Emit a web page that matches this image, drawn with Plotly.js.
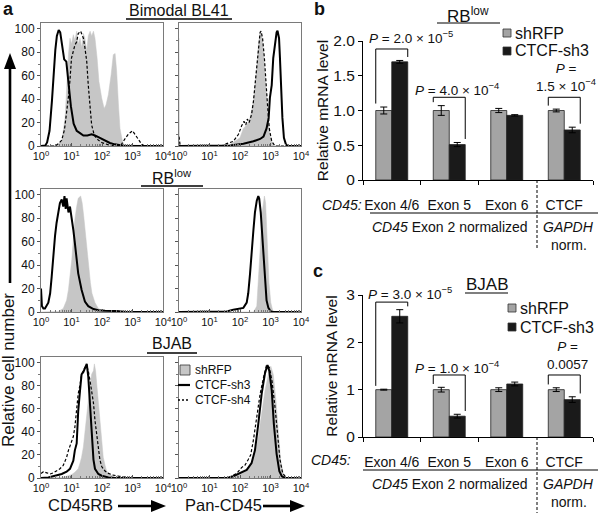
<!DOCTYPE html>
<html>
<head>
<meta charset="utf-8">
<script src="https://cdn.plot.ly/plotly-3.0.1.min.js"></script>
<style>html,body{margin:0;padding:0;background:#fff}#chart{width:600px;height:513px}</style>
</head>
<body>
<div id="chart"></div>
<script>
// ---------- Panel a: flow-cytometry histograms (x = log10 fluorescence, y = relative cell number) ----------
// Bimodal BL41, CD45RB
const bl41RbRfpX = [0, 0.5, 0.57, 0.68, 0.79, 0.84, 0.90, 0.95, 1.0, 1.06, 1.11, 1.17, 1.22, 1.28, 1.33, 1.39, 1.44, 1.50, 1.55, 1.61, 1.66, 1.72, 1.77, 1.84, 1.90, 1.99, 2.07, 2.13, 2.21, 2.30, 2.37, 2.43, 2.48, 2.54, 2.59, 2.67, 2.73, 4];
const bl41RbRfpY = [0, 0.5, 1.7, 4, 24, 52, 78, 92, 87, 95, 90, 98, 87, 92, 84, 96, 92, 81, 94, 98, 94, 98, 92, 75, 55, 41, 32, 35, 44, 61, 78, 79, 64, 35, 15, 4, 1, 0];
const bl41RbSh3X = [0, 0.14, 0.20, 0.28, 0.36, 0.41, 0.47, 0.52, 0.58, 0.63, 0.68, 0.76, 0.83, 0.90, 0.98, 1.07, 1.17, 1.28, 1.39, 1.52, 1.66, 1.77, 1.93, 2.10, 2.26, 2.42, 2.59, 2.75, 4];
const bl41RbSh3Y = [0, 0.5, 3, 13, 39, 62, 82, 94, 99, 97, 88, 74, 72, 54, 34, 19, 13, 11, 9, 9, 10, 9, 7, 5, 2.6, 1.4, 0.6, 0, 0];
const bl41RbSh4X = [0, 0.46, 0.57, 0.68, 0.77, 0.84, 0.90, 0.95, 1.0, 1.06, 1.11, 1.17, 1.22, 1.30, 1.33, 1.39, 1.44, 1.50, 1.55, 1.61, 1.66, 1.75, 1.88, 1.99, 2.21, 2.48, 2.64, 2.75, 2.86, 3.0, 3.08, 3.19, 3.30, 3.41, 4];
const bl41RbSh4Y = [0, 0, 2, 5, 14, 28, 42, 56, 75, 81, 86, 89, 96, 98, 96, 92, 84, 72, 52, 32, 18, 9, 5, 3, 1, 0, 1.5, 6, 10, 13, 10, 5, 1.5, 0, 0];
// Bimodal BL41, Pan-CD45
const bl41PanRfpX = [0, 0.012, 1.6, 1.78, 2.0, 2.11, 2.22, 2.33, 2.44, 2.49, 2.55, 2.60, 2.66, 2.71, 2.77, 2.82, 2.87, 2.93, 2.98, 3.04, 3.09, 4];
const bl41PanRfpY = [92, 0, 0, 3, 7, 15, 18, 24, 38, 52, 67, 86, 98, 95, 81, 61, 41, 24, 10, 3, 0, 0];
const bl41PanSh3X = [0, 1.5, 1.67, 2.11, 2.44, 2.66, 2.77, 2.87, 2.94, 2.98, 3.04, 3.09, 3.15, 3.20, 3.23, 3.28, 3.31, 3.34, 3.39, 3.44, 3.51, 3.58, 4];
const bl41PanSh3Y = [0, 0, 0.5, 2, 4, 6, 8, 15, 24, 41, 52, 75, 89, 97, 98.5, 92, 75, 52, 24, 7, 1, 0, 0];
const bl41PanSh4X = [0, 0.04, 1.4, 1.56, 1.78, 1.95, 2.05, 2.13, 2.19, 2.24, 2.30, 2.38, 2.44, 2.49, 2.55, 2.60, 2.66, 2.69, 2.74, 2.80, 2.85, 2.91, 2.96, 3.04, 3.15, 4];
const bl41PanSh4Y = [8, 0, 0, 2, 4, 10, 17, 21, 18, 23, 20, 27, 38, 52, 67, 84, 97, 98, 92, 75, 52, 32, 15, 4, 0, 0];
// RB low, CD45RB
const rbLowRbRfpX = [0, 0.5, 0.57, 0.73, 0.84, 0.90, 0.95, 1.01, 1.06, 1.11, 1.17, 1.22, 1.30, 1.35, 1.40, 1.45, 1.51, 1.56, 1.62, 1.67, 1.77, 1.88, 1.99, 2.10, 4];
const rbLowRbRfpY = [0, 0, 0.5, 3, 10, 19, 30, 45, 62, 79, 90, 97, 99, 93, 82, 68, 53, 39, 25, 16, 8, 3, 1.5, 0, 0];
const rbLowRbSh3X = [0, 0.03, 0.08, 0.13, 0.24, 0.30, 0.35, 0.40, 0.46, 0.51, 0.57, 0.62, 0.68, 0.73, 0.77, 0.81, 0.84, 0.90, 0.95, 1.01, 1.06, 1.11, 1.17, 1.22, 1.33, 1.44, 1.55, 1.72, 1.88, 2.10, 2.48, 2.64, 2.8, 4];
const rbLowRbSh3Y = [20, 5, 3, 3, 8, 16, 30, 48, 65, 76, 85, 93, 96, 90, 99, 88, 97, 85, 90, 76, 70, 59, 45, 33, 19, 9, 5, 2.5, 1.5, 1, 0.8, 0.3, 0, 0];
// RB low, Pan-CD45
const rbLowPanRfpX = [0, 2.44, 2.55, 2.60, 2.66, 2.71, 2.77, 2.80, 2.84, 2.87, 2.91, 2.95, 3.01, 3.07, 3.15, 4];
const rbLowPanRfpY = [0, 0, 5, 25, 53, 82, 93, 99, 93, 76, 53, 25, 8, 1.5, 0, 0];
const rbLowPanSh3X = [0, 1.34, 1.56, 1.78, 1.95, 2.11, 2.22, 2.27, 2.33, 2.38, 2.44, 2.49, 2.55, 2.60, 2.63, 2.68, 2.72, 2.77, 2.82, 2.87, 2.93, 3.01, 3.09, 4];
const rbLowPanSh3Y = [0, 0, 0.5, 2, 2.5, 3.5, 8, 16, 33, 53, 70, 85, 95, 99, 97, 85, 68, 45, 25, 10, 3.5, 0.5, 0, 0];
// BJAB, CD45RB
const bjabRbRfpX = [0, 0.46, 0.68, 0.90, 1.01, 1.11, 1.22, 1.28, 1.33, 1.39, 1.44, 1.50, 1.55, 1.61, 1.66, 1.72, 1.75, 1.79, 1.83, 1.88, 1.93, 1.99, 2.04, 2.10, 2.15, 2.26, 2.43, 2.54, 4];
const bjabRbRfpY = [0, 0, 0.5, 2, 3, 5, 8, 13, 18, 27, 38, 53, 67, 81, 90, 93, 99, 93, 81, 64, 47, 30, 18, 11, 6, 3, 0.5, 0, 0];
const bjabRbSh3X = [0, 0.02, 0.24, 0.46, 0.68, 0.84, 0.95, 1.06, 1.11, 1.17, 1.22, 1.28, 1.33, 1.39, 1.44, 1.50, 1.55, 1.61, 1.66, 1.72, 1.77, 1.88, 1.99, 2.21, 2.43, 4];
const bjabRbSh3Y = [0, 0, 0.5, 2, 3.5, 5.5, 8, 15, 24, 30, 58, 76, 90, 92, 95, 99, 88, 61, 33, 16, 8, 3.5, 2, 0.5, 0, 0];
const bjabRbSh4X = [0, 0.08, 0.19, 0.30, 0.41, 0.52, 0.62, 0.73, 0.84, 0.90, 0.95, 1.01, 1.06, 1.11, 1.17, 1.22, 1.28, 1.33, 1.39, 1.44, 1.50, 1.55, 1.61, 1.66, 1.72, 1.77, 1.83, 1.88, 1.93, 1.99, 2.10, 2.21, 2.37, 2.54, 2.70, 2.92, 3.0, 4];
const bjabRbSh4Y = [4, 5.5, 4.5, 3.5, 4.5, 6, 8, 11, 18, 24, 28, 31, 36, 44, 58, 73, 81, 90, 93, 96, 97, 93, 84, 76, 65, 50, 37, 26, 16, 10, 6, 4, 2.5, 1.7, 1, 0.5, 0, 0];
// BJAB, Pan-CD45
const bjabPanRfpX = [0, 1.56, 2.0, 2.22, 2.38, 2.49, 2.60, 2.71, 2.82, 2.93, 3.01, 3.09, 3.18, 3.26, 3.33, 3.42, 3.51, 4];
const bjabPanRfpY = [0, 0, 3, 6, 13, 21, 36, 56, 76, 90, 97, 90, 67, 39, 16, 4, 0, 0];
const bjabPanSh3X = [0, 1.6, 1.78, 2.0, 2.22, 2.38, 2.49, 2.60, 2.71, 2.82, 2.90, 2.96, 3.04, 3.11, 3.20, 3.29, 3.37, 3.48, 4];
const bjabPanSh3Y = [0, 0, 1.5, 4, 7, 13, 24, 47, 73, 91, 98, 93, 76, 47, 21, 6, 1.5, 0, 0];
const bjabPanSh4X = [0, 1.5, 1.67, 1.89, 2.05, 2.16, 2.27, 2.35, 2.44, 2.55, 2.66, 2.77, 2.87, 2.96, 3.05, 3.15, 3.22, 3.31, 3.40, 3.51, 3.65, 4];
const bjabPanSh4Y = [0, 0, 1, 4, 9, 11, 16, 20, 33, 53, 73, 87, 98, 96, 84, 61, 39, 16, 4, 0.5, 0, 0];

const histTickVals = [1, 10, 100, 1000, 10000];
const histTickText = ['10<sup>0</sup>', '10<sup>1</sup>', '10<sup>2</sup>', '10<sup>3</sup>', '10<sup>4</sup>'];
const countTickVals = [0, 20, 40, 60, 80, 100];
const seriesNames = ['shRFP', 'CTCF-sh3', 'CTCF-sh4'];

// ---------- Panels b, c: qRT-PCR bars ----------
const exonCategories = ['Exon 4/6', 'Exon 5', 'Exon 6', 'CTCF'];
const rbLowShRFP = [1.0, 1.0, 1.0, 1.0];
const rbLowShRFPErr = [0.05, 0.07, 0.03, 0.02];
const rbLowSh3 = [1.70, 0.51, 0.93, 0.72];
const rbLowSh3Err = [0.02, 0.03, 0.01, 0.04];
const bjabShRFP = [1.0, 1.0, 1.0, 1.0];
const bjabShRFPErr = [0.01, 0.05, 0.04, 0.04];
const bjabSh3 = [2.55, 0.44, 1.12, 0.79];
const bjabSh3Err = [0.14, 0.04, 0.04, 0.06];
const rbLowPLabels = ['<i>P</i> = 2.0 × 10<sup>−5</sup>', '<i>P</i> = 4.0 × 10<sup>−4</sup>', '<i>P</i> =<br>1.5 × 10<sup>−4</sup>'];
const bjabPLabels = ['<i>P</i> = 3.0 × 10<sup>−5</sup>', '<i>P</i> = 1.0 × 10<sup>−4</sup>', '<i>P</i> =<br>0.0057'];
const pCategories = [0, 1, 3];

// ---------- helpers ----------
const W = 600, H = 513;
const px = x => x / W;
const py = y => 1 - y / H;
const FONT = 'Liberation Sans, Arial, Helvetica, sans-serif';
const GRAY = '#c6c6c6';
const pow10 = arr => arr.map(d => Math.pow(10, d));

const traces = [];
function hist(xs, ys, kind, n) {
  const ax = n === 1 ? '' : String(n);
  const t = {type: 'scatter', mode: 'lines', x: pow10(xs), y: ys, xaxis: 'x' + ax, yaxis: 'y' + ax,
    cliponaxis: false, hoverinfo: 'skip', showlegend: false};
  if (kind === 0) { t.name = seriesNames[0]; t.fill = 'tozeroy'; t.fillcolor = GRAY; t.line = {color: GRAY, width: 0.5}; }
  if (kind === 1) { t.name = seriesNames[1]; t.line = {color: '#000', width: 2}; }
  if (kind === 2) { t.name = seriesNames[2]; t.line = {color: '#000', width: 1.2, dash: '3px,2px'}; }
  traces.push(t);
}
hist(bl41RbRfpX, bl41RbRfpY, 0, 1); hist(bl41RbSh4X, bl41RbSh4Y, 2, 1); hist(bl41RbSh3X, bl41RbSh3Y, 1, 1);
hist(bl41PanRfpX, bl41PanRfpY, 0, 2); hist(bl41PanSh4X, bl41PanSh4Y, 2, 2); hist(bl41PanSh3X, bl41PanSh3Y, 1, 2);
hist(rbLowRbRfpX, rbLowRbRfpY, 0, 3); hist(rbLowRbSh3X, rbLowRbSh3Y, 1, 3);
hist(rbLowPanRfpX, rbLowPanRfpY, 0, 4); hist(rbLowPanSh3X, rbLowPanSh3Y, 1, 4);
hist(bjabRbRfpX, bjabRbRfpY, 0, 5); hist(bjabRbSh4X, bjabRbSh4Y, 2, 5); hist(bjabRbSh3X, bjabRbSh3Y, 1, 5);
hist(bjabPanRfpX, bjabPanRfpY, 0, 6); hist(bjabPanSh4X, bjabPanSh4Y, 2, 6); hist(bjabPanSh3X, bjabPanSh3Y, 1, 6);

const catIdx = exonCategories.map((c, i) => i);
function bars(vals, errs, name, color, n) {
  traces.push({type: 'bar', x: catIdx, y: vals, name: name, xaxis: 'x' + n, yaxis: 'y' + n, showlegend: false,
    marker: {color: color, line: {color: '#222', width: 0.8}},
    error_y: {type: 'data', array: errs, visible: true, color: '#000', thickness: 1, width: 3.5},
    hoverinfo: 'skip'});
}
bars(rbLowShRFP, rbLowShRFPErr, 'shRFP', '#a4a4a4', 7);
bars(rbLowSh3, rbLowSh3Err, 'CTCF-sh3', '#1a1a1a', 7);
bars(bjabShRFP, bjabShRFPErr, 'shRFP', '#a4a4a4', 8);
bars(bjabSh3, bjabSh3Err, 'CTCF-sh3', '#1a1a1a', 8);

// ---------- layout ----------
const minorLog = [];
for (let k = 0; k < 4; k++) for (let m = 2; m <= 9; m++) minorLog.push(m * Math.pow(10, k));

const layout = {
  width: W, height: H, margin: {l: 0, r: 0, t: 0, b: 0},
  paper_bgcolor: '#fff', plot_bgcolor: 'rgba(0,0,0,0)',
  font: {family: FONT, color: '#111', size: 12},
  showlegend: false, barmode: 'group', bargap: 0.444, bargroupgap: 0,
  annotations: [], shapes: []
};

const histBoxes = [
  {x: [41, 163], y: [23, 146], lab: true},
  {x: [179, 301], y: [23, 146], lab: false},
  {x: [41, 163], y: [189, 312], lab: true},
  {x: [179, 301], y: [189, 312], lab: false},
  {x: [41, 163], y: [357, 478], lab: true},
  {x: [179, 301], y: [357, 478], lab: false}
];
histBoxes.forEach((b, i) => {
  const n = i + 1, s = n === 1 ? '' : String(n);
  layout['xaxis' + s] = {
    type: 'log', range: [0, 4], domain: [px(b.x[0]), px(b.x[1])], anchor: 'y' + s,
    tickmode: 'array', tickvals: histTickVals, ticktext: histTickText,
    ticks: 'inside', ticklen: 3, tickcolor: '#555', tickfont: {size: 11}, ticklabelstandoff: 0,
    showline: true, mirror: true, linecolor: '#7a7a7a', linewidth: 1,
    showgrid: false, zeroline: false, fixedrange: true,
    minor: {tickmode: 'array', tickvals: minorLog, ticks: 'inside', ticklen: 2, tickcolor: '#777', showgrid: false}
  };
  layout['yaxis' + s] = {
    range: [0, 105], domain: [py(b.y[1]), py(b.y[0])], anchor: 'x' + s,
    tickmode: 'array', tickvals: countTickVals, showticklabels: b.lab,
    ticks: 'outside', ticklen: 3, tickcolor: '#555', tickfont: {size: 12},
    showline: true, mirror: true, linecolor: '#7a7a7a', linewidth: 1,
    showgrid: false, zeroline: false, fixedrange: true,
    minor: {dtick: 10, ticks: 'outside', ticklen: 2, tickcolor: '#777', showgrid: false}
  };
});

function barAxes(n, yTop, yBottom, yMax, yTicks, yText, standoff) {
  layout['xaxis' + n] = {
    range: [-0.5, 3.5], domain: [px(363), px(593)], anchor: 'y' + n,
    tickmode: 'array', tickvals: catIdx, ticktext: exonCategories, ticks: '', ticklen: 0,
    ticklabelstandoff: 12, tickfont: {size: 14},
    showline: true, linecolor: '#000', linewidth: 1, showgrid: false, zeroline: false, fixedrange: true,
    minor: {tickmode: 'array', tickvals: [-0.5, 0.5, 1.5, 3.5], ticks: 'outside', ticklen: 4, tickcolor: '#000', showgrid: false}
  };
  layout['yaxis' + n] = {
    range: [0, yMax], domain: [py(yBottom), py(yTop)], anchor: 'x' + n,
    tickmode: 'array', tickvals: yTicks, ticktext: yText, ticks: 'outside', ticklen: 4, tickcolor: '#000',
    tickfont: {size: 15.5}, showline: true, linecolor: '#000', linewidth: 1,
    showgrid: false, zeroline: false, fixedrange: true,
    title: {text: 'Relative mRNA level', font: {size: 15.5}, standoff: standoff}
  };
}
barAxes(7, 41, 180, 2.0, [0, 0.5, 1, 1.5, 2], ['0', '0.5', '1.0', '1.5', '2.0'], 0);
barAxes(8, 295, 437, 3, [0, 1, 2, 3], ['0', '1', '2', '3'], 4);

const A = layout.annotations, S = layout.shapes;
function txt(text, x, y, size, opts) {
  A.push(Object.assign({text: text, x: px(x), y: py(y), xref: 'paper', yref: 'paper', showarrow: false,
    xanchor: 'center', yanchor: 'middle', font: {size: size, family: FONT, color: '#111'}}, opts || {}));
}
function line(x0, y0, x1, y1, w, dash) {
  S.push({type: 'line', xref: 'paper', yref: 'paper', x0: px(x0), y0: py(y0), x1: px(x1), y1: py(y1),
    line: {color: '#000', width: w, dash: dash || 'solid'}});
}
function tri(pts) {
  S.push({type: 'path', xref: 'paper', yref: 'paper',
    path: 'M ' + pts.map(p => px(p[0]) + ',' + py(p[1])).join(' L ') + ' Z', fillcolor: '#000', line: {width: 0}});
}
function rect(x0, y0, x1, y1, fill) {
  S.push({type: 'rect', xref: 'paper', yref: 'paper', x0: px(x0), y0: py(y0), x1: px(x1), y1: py(y1),
    fillcolor: fill, line: {color: '#333', width: 0.8}});
}

// panel letters
txt('<b>a</b>', 1, 9, 18, {xanchor: 'left'});
txt('<b>b</b>', 312, 9, 18, {xanchor: 'left'});
txt('<b>c</b>', 311, 271, 18, {xanchor: 'left'});

// panel a headings
txt('Bimodal BL41', 179, 10, 16); line(126, 19, 232, 19, 1.5);
txt('RB<sup>low</sup>', 172, 177, 16); line(141, 186, 203, 186, 1.5);
txt('BJAB', 172, 343, 16); line(147, 353, 197, 353, 1.5);

// panel a axis descriptions
txt('Relative cell number', 8, 370, 17, {textangle: -90});
line(10, 283, 10, 66, 2.6); tri([[10, 53], [4, 69], [16, 69]]);
txt('CD45RB', 80, 505, 16.5); line(118, 506, 152, 506, 2.6); tri([[166, 506], [151, 500], [151, 512]]);
txt('Pan-CD45', 223, 505, 16.5); line(263, 506, 291, 506, 2.6); tri([[305, 506], [290, 500], [290, 512]]);

// panel a legend
rect(180, 375, 190, 365, GRAY); txt(seriesNames[0], 193, 370, 12, {xanchor: 'left'});
line(178, 385, 190, 385, 2.2); txt(seriesNames[1], 193, 385, 12, {xanchor: 'left'});
line(178, 400, 190, 400, 1.4, '2px,2px'); txt(seriesNames[2], 193, 400, 12, {xanchor: 'left'});

// panels b / c headings and legends
txt('RB<sup>low</sup>', 468, 15, 17); line(437, 23, 500, 23, 1.2);
rect(503, 37, 511, 29, '#a4a4a4'); txt('shRFP', 513, 33, 16, {xanchor: 'left'});
rect(503, 55, 511, 47, '#1a1a1a'); txt('CTCF-sh3', 513, 51, 16, {xanchor: 'left'});
txt('BJAB', 487, 284, 17); line(465, 293, 508, 293, 1.2);
rect(508, 312, 516, 304, '#a4a4a4'); txt('shRFP', 518, 308, 16, {xanchor: 'left'});
rect(508, 331, 516, 323, '#1a1a1a'); txt('CTCF-sh3', 518, 327, 16, {xanchor: 'left'});

// category group labels under bar charts
function groupLabels(axisY, labY, cd45X, lineX0, row2Y, normY, dashEnd) {
  txt('<i>CD45:</i>', cd45X, labY, 14);
  line(lineX0, row2Y - 14, 598, row2Y - 14, 1);
  txt('<i>CD45</i> Exon 2 normalized', 450, row2Y, 14);
  txt('<i>GAPDH</i>', 568, row2Y, 14);
  txt('norm.', 569, normY, 14);
  line(537, axisY, 537, dashEnd, 1, '3px,2px');
}
groupLabels(180, 205, 342, 370, 227, 245, 250);
groupLabels(437, 460, 331, 363, 484, 502, 513);

// significance brackets, computed from bar data
const halfGroup = (1 - layout.bargap) / 2;
function brackets(n, rfp, rfpErr, sh3, sh3Err, labels, levels, gap, textOpts) {
  pCategories.forEach((c, k) => {
    const xl = c - halfGroup, xr = c + halfGroup, lv = levels[k];
    const yl = rfp[c] + rfpErr[c] + gap, yr = sh3[c] + sh3Err[c] + gap;
    S.push({type: 'path', xref: 'x' + n, yref: 'y' + n, path: `M ${xl},${yl} L ${xl},${lv} L ${xr},${lv} L ${xr},${yr}`,
      line: {color: '#000', width: 1}});
    const o = textOpts[k];
    A.push({text: labels[k], xref: 'x' + n, yref: 'y' + n, x: o.center ? c : xl, y: lv, showarrow: false,
      xanchor: o.center ? 'center' : 'left', yanchor: o.center ? 'bottom' : 'middle',
      xshift: o.dx, yshift: o.dy, align: 'center', font: {size: 13.5, family: FONT, color: '#111'}});
  });
}
brackets(7, rbLowShRFP, rbLowShRFPErr, rbLowSh3, rbLowSh3Err, rbLowPLabels, [1.885, 1.19, 1.19], 0.05,
  [{dx: -9, dy: 12}, {dx: -20, dy: 8}, {center: true, dx: 2, dy: 1}]);
brackets(8, bjabShRFP, bjabShRFPErr, bjabSh3, bjabSh3Err, bjabPLabels, [2.85, 1.31, 1.31], 0.07,
  [{dx: -10, dy: 9}, {dx: -20, dy: 8}, {center: true, dx: 3, dy: 1}]);

Plotly.newPlot('chart', traces, layout, {staticPlot: true, displayModeBar: false});
</script>
</body>
</html>
